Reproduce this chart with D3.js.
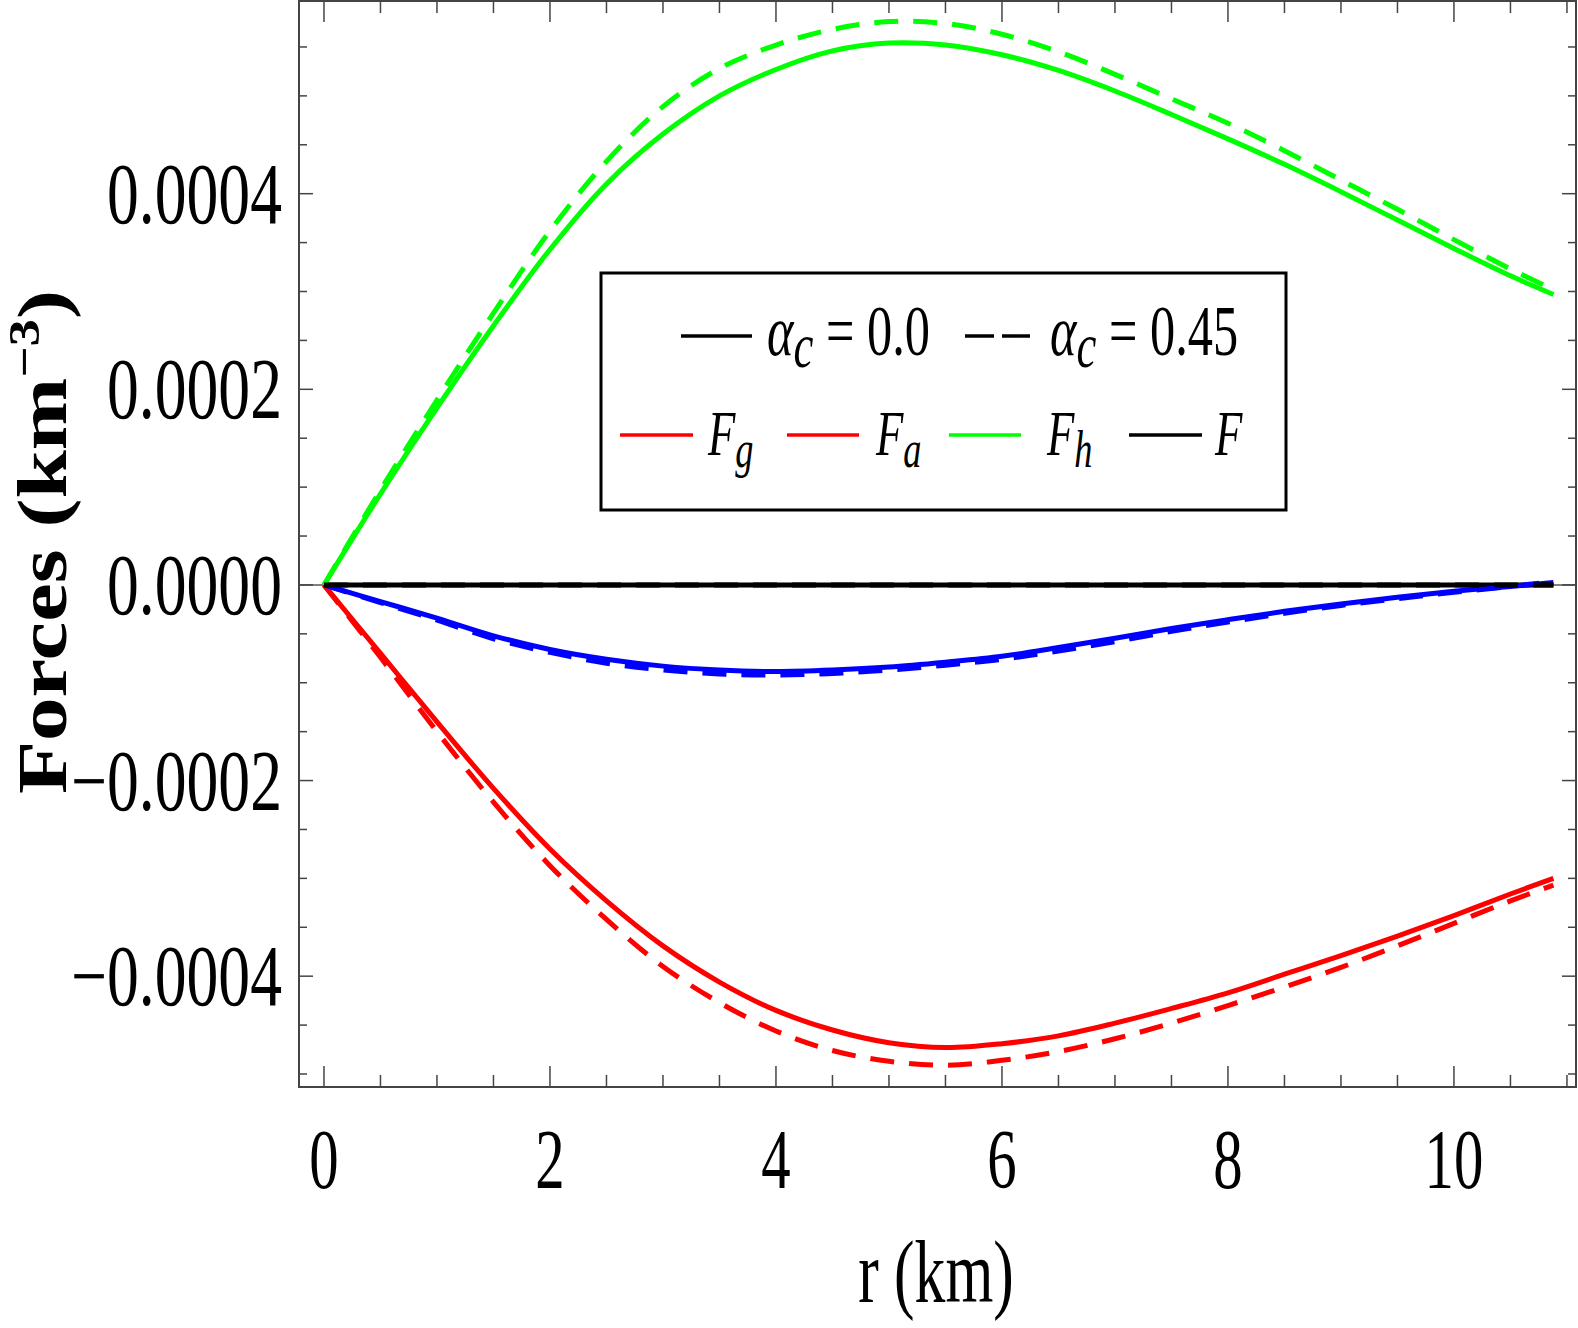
<!DOCTYPE html>
<html>
<head>
<meta charset="utf-8">
<script src="https://cdn.jsdelivr.net/npm/d3@7"></script>
<style>
  html, body { margin: 0; padding: 0; background: #fff; }
  svg { display: block; }
  text { font-family: "Liberation Serif", "Times New Roman", serif; fill: #000; }
</style>
</head>
<body>
<svg id="chart" width="1578" height="1328"></svg>
<script>
// ---------------- data (forces in units of 1e-4 km^-3) ----------------
const r = [0, 0.5, 1, 1.5, 2, 2.5, 3, 3.5, 4, 4.5, 5, 5.5, 6, 6.5, 7, 7.5, 8, 8.5, 9, 9.5, 10, 10.5, 10.88];

// alpha_c = 0.0 (solid)
const Fg_a0 = [0, -0.70, -1.40, -2.08, -2.70, -3.23, -3.69, -4.06, -4.35, -4.55, -4.68, -4.73, -4.69, -4.61, -4.48, -4.33, -4.17, -3.98, -3.79, -3.59, -3.38, -3.16, -3.00];
const Fa_a0 = [0, -0.17, -0.34, -0.52, -0.66, -0.76, -0.83, -0.87, -0.885, -0.87, -0.84, -0.79, -0.73, -0.64, -0.545, -0.445, -0.355, -0.27, -0.195, -0.125, -0.065, -0.015, 0.024];
const Fh_a0 = [0, 0.93, 1.81, 2.65, 3.43, 4.10, 4.61, 5.00, 5.27, 5.46, 5.54, 5.52, 5.42, 5.26, 5.05, 4.81, 4.56, 4.30, 4.02, 3.73, 3.44, 3.16, 2.97];
const F_a0  = [0, 0, 0, 0, 0, 0, 0, 0, 0, 0, 0, 0, 0, 0, 0, 0, 0, 0, 0, 0, 0, 0, 0];

// alpha_c = 0.45 (dashed)
const Fg_a45 = [0, -0.74, -1.50, -2.22, -2.87, -3.42, -3.90, -4.27, -4.56, -4.76, -4.87, -4.91, -4.86, -4.77, -4.64, -4.48, -4.30, -4.11, -3.91, -3.69, -3.46, -3.23, -3.07];
const Fa_a45 = [0, -0.18, -0.36, -0.55, -0.69, -0.80, -0.87, -0.91, -0.92, -0.905, -0.87, -0.82, -0.76, -0.675, -0.58, -0.475, -0.38, -0.29, -0.21, -0.14, -0.075, -0.015, 0.035];
const Fh_a45 = [0, 0.97, 1.89, 2.78, 3.62, 4.33, 4.89, 5.28, 5.52, 5.68, 5.76, 5.74, 5.63, 5.45, 5.22, 4.97, 4.72, 4.44, 4.14, 3.84, 3.53, 3.23, 3.02];
const F_a45  = [0, 0, 0, 0, 0, 0, 0, 0, 0, 0, 0, 0, 0, 0, 0, 0, 0, 0, 0, 0, 0, 0, 0];

const UNIT = 1e-4;

const xTicks = [0, 2, 4, 6, 8, 10];
const xTickLabels = ["0", "2", "4", "6", "8", "10"];
const yTicks = [-0.0004, -0.0002, 0, 0.0002, 0.0004];
const yTickLabels = ["\u22120.0004", "\u22120.0002", "0.0000", "0.0002", "0.0004"];

const seriesColors = ["#ff0000", "#0000ff", "#00ff00", "#000000"];
const legendColors = ["#ff0000", "#ff0000", "#00ff00", "#000000"];
const legendSubs = ["g", "a", "h", ""];
const alphaLabels = ["0.0", "0.45"];

// ---------------- layout ----------------
const svg = d3.select("#chart");
const L = 299, R = 1576, T = 1, B = 1087;
const x = d3.scaleLinear().domain([-0.221, 11.08]).range([L, R]);
const y = d3.scaleLinear().domain([-0.0005133, 0.000597]).range([B, T]);

const FONT_SX = 0.70;
const frameColor = "#444";

// axis line at y = 0
svg.append("line")
  .attr("x1", L).attr("x2", R).attr("y1", y(0)).attr("y2", y(0))
  .attr("stroke", "#555").attr("stroke-width", 1.5);

// ---------------- curves ----------------
const solidSets = [Fg_a0, Fa_a0, Fh_a0, F_a0];
const dashedSets = [Fg_a45, Fa_a45, Fh_a45, F_a45];

const line = d3.line()
  .x(d => x(d[0]))
  .y(d => y(d[1] * UNIT))
  .curve(d3.curveCatmullRom.alpha(0.5));

const curves = svg.append("g");
function drawSet(sets, dashed) {
  sets.forEach((vals, i) => {
    curves.append("path")
      .datum(r.map((rv, k) => [rv, vals[k]]))
      .attr("d", line)
      .attr("fill", "none")
      .attr("stroke", seriesColors[i])
      .attr("stroke-width", 5)
      .attr("stroke-dasharray", dashed ? "24,15" : null)
      .attr("stroke-linejoin", "round");
  });
}
drawSet(solidSets, false);
drawSet(dashedSets, true);

// ---------------- frame & ticks ----------------
const frame = svg.append("g");
frame.append("rect")
  .attr("x", L).attr("y", T).attr("width", R - L).attr("height", B - T)
  .attr("fill", "none").attr("stroke", frameColor).attr("stroke-width", 2);

const xMinor = d3.range(0, 11.01, 0.5).filter(v => !xTicks.includes(v));
const yMinor = d3.range(-10, 12).map(k => k * 0.00005)
  .filter(v => v > -0.000513 && v < 0.000597)
  .filter(v => !yTicks.some(t => Math.abs(t - v) < 1e-9));

function xTick(v, len) {
  frame.append("line").attr("x1", x(v)).attr("x2", x(v)).attr("y1", B).attr("y2", B - len)
    .attr("stroke", frameColor).attr("stroke-width", 1.5);
  frame.append("line").attr("x1", x(v)).attr("x2", x(v)).attr("y1", T).attr("y2", T + len)
    .attr("stroke", frameColor).attr("stroke-width", 1.5);
}
function yTick(v, len) {
  frame.append("line").attr("x1", L).attr("x2", L + len).attr("y1", y(v)).attr("y2", y(v))
    .attr("stroke", frameColor).attr("stroke-width", 1.5);
  frame.append("line").attr("x1", R).attr("x2", R - len).attr("y1", y(v)).attr("y2", y(v))
    .attr("stroke", frameColor).attr("stroke-width", 1.5);
}
xTicks.forEach(v => xTick(v, 21));
xMinor.forEach(v => xTick(v, 12));
yTicks.forEach(v => yTick(v, 14));
yMinor.forEach(v => yTick(v, 8));

// ---------------- tick labels ----------------
function condText(g, px, py, str, size, anchor, sx) {
  return g.append("text")
    .attr("transform", `translate(${px},${py}) scale(${sx || FONT_SX},1)`)
    .attr("text-anchor", anchor)
    .attr("font-size", size)
    .text(str);
}
const labels = svg.append("g");
xTicks.forEach((v, i) => condText(labels, x(v), 1188, xTickLabels[i], 84, "middle"));
yTicks.forEach((v, i) => condText(labels, 282, y(v) + 29, yTickLabels[i], 86, "end", 0.74));

// axis titles
condText(labels, 936, 1302, "r (km)", 88, "middle");

const yt = labels.append("text")
  .attr("transform", "translate(66,542) scale(0.8,1) rotate(-90)")
  .attr("text-anchor", "middle")
  .attr("font-size", 87)
  .attr("font-weight", "bold");
yt.append("tspan").text("Forces (km");
yt.append("tspan").attr("font-size", 55).attr("dy", -34).text("\u22123");
yt.append("tspan").attr("dy", 34).text(")");

// ---------------- legend ----------------
const lg = svg.append("g");
lg.append("rect").attr("x", 601).attr("y", 273).attr("width", 685).attr("height", 237)
  .attr("fill", "#fff").attr("stroke", "#000").attr("stroke-width", 3);

// row 1: line styles
const row1 = [{x1: 681, x2: 752, dash: null, tx: 767}, {x1: 965, x2: 1030, dash: "29,8", tx: 1050}];
row1.forEach((it, i) => {
  lg.append("line").attr("x1", it.x1).attr("x2", it.x2).attr("y1", 336).attr("y2", 336)
    .attr("stroke", "#000").attr("stroke-width", 3.5).attr("stroke-dasharray", it.dash);
  const t = lg.append("text")
    .attr("transform", `translate(${it.tx},355) scale(${FONT_SX},1)`)
    .attr("font-size", 72);
  t.append("tspan").attr("font-style", "italic").text("\u03B1");
  t.append("tspan").attr("font-style", "italic").attr("font-size", 64).attr("dy", 12).text("c");
  t.append("tspan").attr("dy", -12).text(" = " + alphaLabels[i]);
});

// row 2: series
const row2 = [{x1: 620, x2: 693, tx: 708}, {x1: 787, x2: 859, tx: 876},
              {x1: 949, x2: 1021, tx: 1047}, {x1: 1129, x2: 1202, tx: 1215}];
row2.forEach((it, i) => {
  lg.append("line").attr("x1", it.x1).attr("x2", it.x2).attr("y1", 435).attr("y2", 435)
    .attr("stroke", legendColors[i]).attr("stroke-width", 3.5);
  const t = lg.append("text")
    .attr("transform", `translate(${it.tx},455) scale(${FONT_SX},1)`)
    .attr("font-size", 64).attr("font-style", "italic");
  t.append("tspan").text("F");
  if (legendSubs[i]) t.append("tspan").attr("font-size", 52).attr("dy", 12).text(legendSubs[i]);
});
</script>
</body>
</html>
